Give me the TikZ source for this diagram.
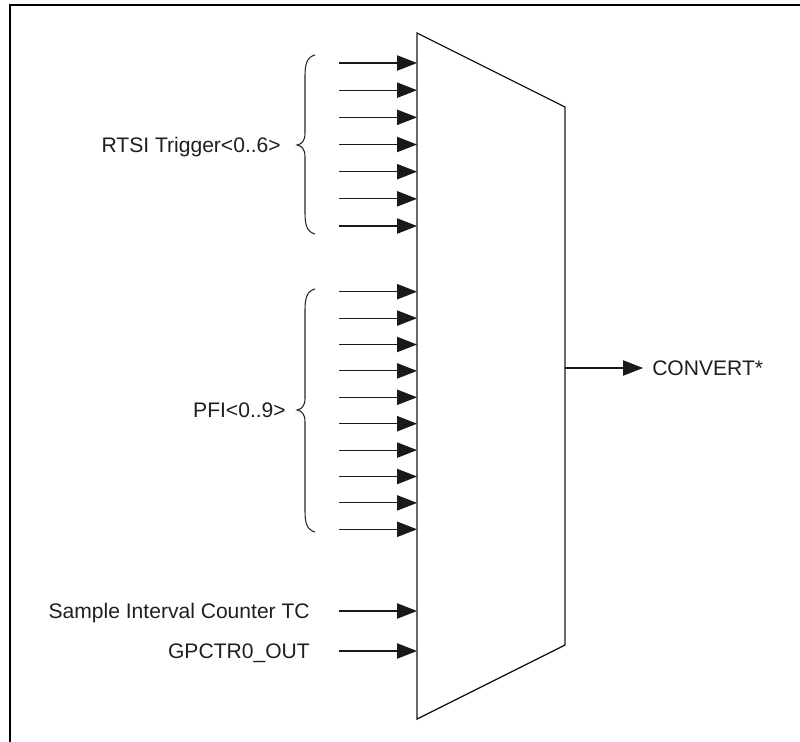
\documentclass[tikz,border=0pt]{standalone}
\usepackage{fontspec}
\setmainfont{Liberation Sans}
\usetikzlibrary{arrows.meta}
\begin{document}
\begin{tikzpicture}[x=0.75pt,y=-0.75pt,
  sig/.style={line width=0.8pt,draw=black!90,-{Triangle[length=15pt,width=11.5pt]}},
  lbl/.style={inner sep=0pt,font=\fontsize{15.8}{18}\selectfont,text=black!88},
  muxline/.style={line width=1pt,draw=black!90},
  bracel/.style={line width=0.8pt,draw=black!85},
  frame/.style={line width=1.5pt,draw=black}]
\useasboundingbox (0,0) rectangle (800,742);
% frame
\draw[frame] (10,742) -- (10,5) -- (800,5);
% multiplexer
\coordinate (mTL) at (417,33);
\coordinate (mTR) at (565,107);
\coordinate (mBR) at (565,645);
\coordinate (mBL) at (417,719);
\draw[muxline] (mTL) -- (mTR) -- (mBR) -- (mBL) -- cycle;
% RTSI inputs
\foreach \i in {0,...,6}{
  \coordinate (rs\i) at (339,63+\i*27.17);
  \coordinate (re\i) at (417,63+\i*27.17);
  \draw[sig] (rs\i) -- (re\i);
}
% PFI inputs
\foreach \i in {0,...,9}{
  \coordinate (ps\i) at (339,291.7+\i*26.4);
  \coordinate (pe\i) at (417,291.7+\i*26.4);
  \draw[sig] (ps\i) -- (pe\i);
}
% braces
\draw[bracel] (315,55) .. controls (307,57) and (305,64) .. (305,76) -- (305,133)
  .. controls (305,141) and (302,144) .. (297,145)
  .. controls (302,146) and (305,149) .. (305,157) -- (305,213)
  .. controls (305,225) and (307,232) .. (315,234);
\draw[bracel] (315,289) .. controls (307,291) and (305,298) .. (305,310) -- (305,398)
  .. controls (305,406) and (302,409) .. (297,410)
  .. controls (302,411) and (305,414) .. (305,422) -- (305,511)
  .. controls (305,523) and (307,530) .. (315,532);
% labels
\node[lbl,anchor=base east] (rtsi) at (281,152) {RTSI Trigger<0..6>};
\node[lbl,anchor=base east] (pfi) at (286,417.5) {PFI<0..9>};
% extra inputs
\node[lbl,anchor=base east] (sic) at (310,618.5) {Sample Interval Counter TC};
\node[lbl,anchor=base east] (gp) at (310,658.5) {GPCTR0\_OUT};
\coordinate (sicS) at (339,611);
\coordinate (sicE) at (417,611);
\coordinate (gpS) at (339,651);
\coordinate (gpE) at (417,651);
\draw[sig] (sicS) -- (sicE);
\draw[sig] (gpS) -- (gpE);
% output
\coordinate (out) at (565,368);
\node[lbl,anchor=base west] (conv) at (652,375.5) {CONVERT*};
\coordinate (outE) at (643,368);
\draw[sig] (out) -- (outE);
\end{tikzpicture}
\end{document}
